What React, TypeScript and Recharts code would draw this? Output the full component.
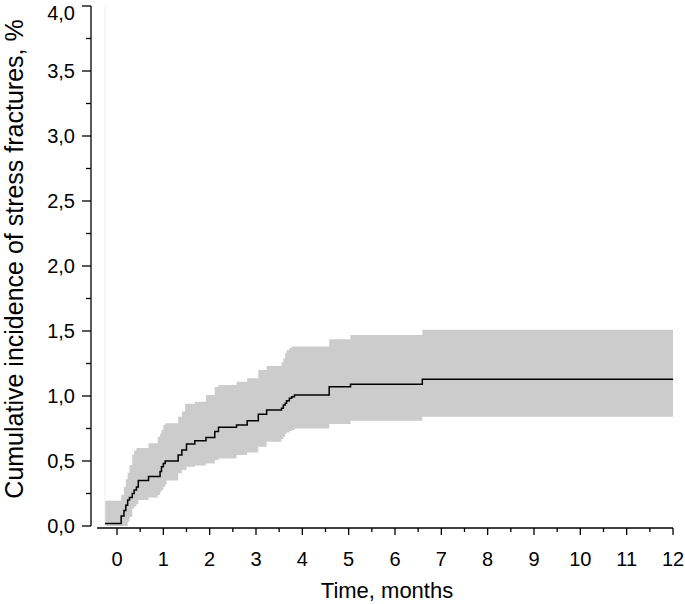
import React from 'react';
import {
  ComposedChart,
  Area,
  Line,
  XAxis,
  YAxis,
  ReferenceLine,
} from 'recharts';

// Step times (months) and cumulative incidence (%) with 95% CI
const TIMES = [
  -0.26, 0.09, 0.15, 0.19, 0.23, 0.27, 0.33, 0.37, 0.42, 0.46,
  0.68, 0.88, 0.93, 0.96, 1.0, 1.04, 1.07, 1.32, 1.4, 1.47,
  1.5, 1.68, 1.92, 2.11, 2.19, 2.58, 2.81, 3.05, 3.23, 3.55,
  3.59, 3.63, 3.66, 3.72, 3.77, 3.83, 4.58, 5.04, 6.59, 12,
];
const ESTIMATE = [
  0.02, 0.077, 0.12, 0.16, 0.2, 0.22, 0.25, 0.277, 0.3, 0.35,
  0.38, 0.38, 0.42, 0.456, 0.48, 0.5, 0.5, 0.546, 0.585, 0.585,
  0.63, 0.656, 0.68, 0.726, 0.76, 0.777, 0.81, 0.86, 0.892, 0.905,
  0.93, 0.944, 0.964, 0.982, 0.995, 1.008, 1.072, 1.09, 1.128, 1.128,
];
const LOWER = [
  0, 0, 0, 0, 0.035, 0.07, 0.135, 0.15, 0.17, 0.2,
  0.22, 0.24, 0.26, 0.277, 0.3, 0.32, 0.35, 0.405, 0.43, 0.43,
  0.456, 0.465, 0.48, 0.508, 0.52, 0.546, 0.565, 0.61, 0.648, 0.67,
  0.687, 0.71, 0.72, 0.73, 0.738, 0.75, 0.785, 0.81, 0.84, 0.84,
];
const UPPER = [
  0.195, 0.24, 0.3, 0.36, 0.41, 0.47, 0.55, 0.58, 0.6, 0.6,
  0.636, 0.687, 0.71, 0.74, 0.777, 0.79, 0.79, 0.84, 0.88, 0.94,
  0.94, 0.956, 1.008, 1.07, 1.085, 1.11, 1.136, 1.2, 1.23, 1.26,
  1.29, 1.33, 1.354, 1.37, 1.38, 1.38, 1.436, 1.47, 1.51, 1.51,
];

// ticks: integers labelled, halves / quarters as minor ticks
const X_TICKS = Array.from({ length: 25 }, (_, i) => i / 2);
const Y_TICKS = Array.from({ length: 17 }, (_, i) => i / 4);

// axis extents (layout)
const X_MIN = -0.561;
const X_AXIS_START = -0.43;
const Y_MIN = -0.0154;

const FONT = '"Liberation Sans", Arial, Helvetica, sans-serif';

const chartData = TIMES.map((t, i) => ({
  t,
  est: ESTIMATE[i],
  band: [LOWER[i], UPPER[i]],
}));

const XTick = (props: any) => {
  const { x, y, payload } = props;
  const major = Number.isInteger(payload.value);
  return (
    <g>
      <line x1={x} x2={x} y1={y} y2={y + (major ? 7 : 4)} stroke="#000" strokeWidth={1.3} />
      {major && (
        <text x={x} y={y + 38} textAnchor="middle" fontSize={20} fontFamily={FONT} fill="#000">
          {payload.value}
        </text>
      )}
    </g>
  );
};

const YTick = (props: any) => {
  const { x, y, payload } = props;
  const major = Number.isInteger(payload.value * 2);
  // top label is pushed down so it stays inside the page
  const baseline = Math.max(y + 7, 20);
  return (
    <g>
      <line x1={x - (major ? 9 : 5)} x2={x} y1={y} y2={y} stroke="#000" strokeWidth={1.3} />
      {major && (
        <text x={x - 16} y={baseline} textAnchor="end" fontSize={20} fontFamily={FONT} fill="#000">
          {payload.value.toFixed(1).replace('.', ',')}
        </text>
      )}
    </g>
  );
};

export default function App() {
  return (
    <div style={{ position: 'absolute', left: 0, top: 0, background: '#fff' }}>
      <ComposedChart
        width={685}
        height={604}
        data={chartData}
        margin={{ top: 6, right: 12, left: 0, bottom: 0 }}
      >
        <XAxis
          dataKey="t"
          type="number"
          domain={[X_MIN, 12]}
          ticks={X_TICKS}
          interval={0}
          allowDataOverflow
          axisLine={false}
          tickLine={false}
          tickSize={0}
          tickMargin={0}
          tick={<XTick />}
          height={76}
          label={{
            content: () => (
              <text x={387} y={598} textAnchor="middle" fontSize={22} fontFamily={FONT} fill="#000">
                Time, months
              </text>
            ),
          }}
        />
        <YAxis
          type="number"
          domain={[Y_MIN, 4]}
          ticks={Y_TICKS}
          interval={0}
          allowDataOverflow
          axisLine={false}
          tickLine={false}
          tickSize={0}
          tickMargin={0}
          tick={<YTick />}
          width={91}
          label={{
            content: () => (
              <text
                x={14}
                y={259}
                transform="rotate(-90, 14, 259)"
                textAnchor="middle"
                dominantBaseline="central"
                fontSize={25}
                fontFamily={FONT}
                fill="#000"
              >
                Cumulative incidence of stress fractures, %
              </text>
            ),
          }}
        />
        <ReferenceLine
          segment={[{ x: TIMES[0], y: 0 }, { x: TIMES[0], y: 4 }]}
          stroke="#f0f0f0"
          strokeWidth={1}
        />
        <Area
          dataKey="band"
          type="stepAfter"
          fill="#cccccc"
          fillOpacity={1}
          stroke="none"
          isAnimationActive={false}
        />
        <Line
          dataKey="est"
          type="stepAfter"
          stroke="#000"
          strokeWidth={1.5}
          dot={false}
          activeDot={false}
          isAnimationActive={false}
        />
        <ReferenceLine
          segment={[{ x: X_MIN, y: 0 }, { x: X_MIN, y: 4 }]}
          stroke="#000"
          strokeWidth={1.3}
        />
        <ReferenceLine
          segment={[{ x: X_AXIS_START, y: Y_MIN }, { x: 12, y: Y_MIN }]}
          stroke="#000"
          strokeWidth={1.3}
        />
      </ComposedChart>
    </div>
  );
}
